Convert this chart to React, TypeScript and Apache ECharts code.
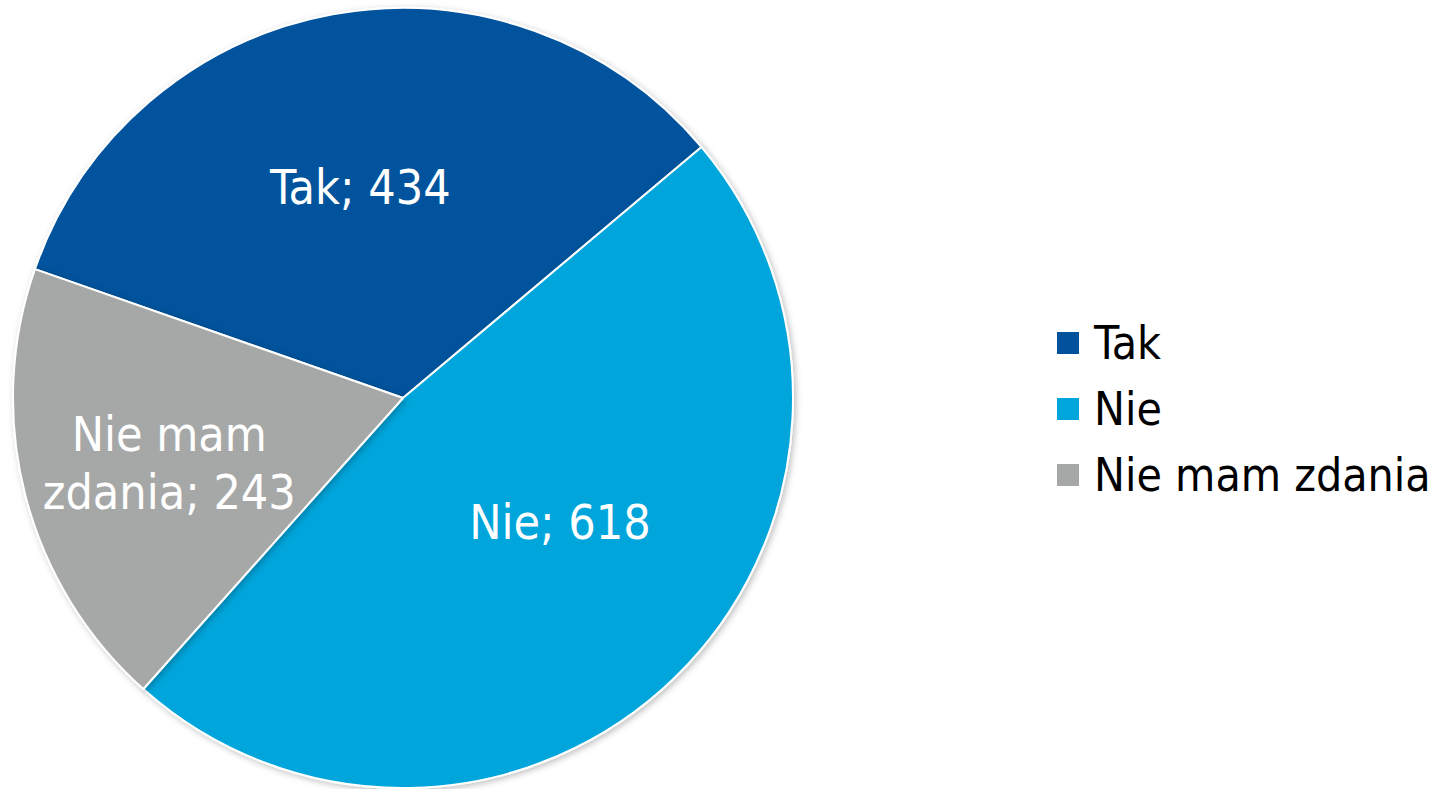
import React, { useEffect, useRef } from "react";
import * as echarts from "echarts";

const categories = ["Tak", "Nie", "Nie mam zdania"];
const values = [434, 618, 243];
const labelTexts = ["Tak; 434", "Nie; 618", "Nie mam\nzdania; 243"];
const colors = ["#00529C", "#00A5DB", "#A6A8A8"];
const labelOffsets = [[-7, -16], [19, -18], [-42, 16]];

const FONT = "'DejaVu Sans Condensed', 'DejaVu Sans', sans-serif";

export default function App() {
  const ref = useRef<HTMLDivElement>(null);
  useEffect(() => {
    document.body.style.margin = "0";
    const chart = echarts.init(ref.current!, undefined, { renderer: "svg" });
    chart.setOption({
      animation: false,
      backgroundColor: "#ffffff",
      legend: {
        orient: "vertical",
        left: 1050,
        top: 315,
        itemWidth: 24,
        itemHeight: 24,
        itemGap: 20,
        icon: "rect",
        data: categories,
        textStyle: {
          fontSize: 46,
          fontFamily: FONT,
          color: "#000",
          lineHeight: 46,
          padding: [0, 0, 0, 9],
        },
      },
      series: [
        {
          type: "pie",
          center: [403, 398],
          radius: 390,
          startAngle: 160.7,
          clockwise: true,
          avoidLabelOverlap: false,
          itemStyle: {
            borderColor: "#ffffff",
            borderWidth: 2,
            shadowBlur: 6,
            shadowColor: "rgba(0,0,0,0.25)",
            shadowOffsetX: 2,
            shadowOffsetY: 2,
          },
          label: {
            show: true,
            position: "inside",
            color: "#ffffff",
            fontSize: 48,
            fontFamily: FONT,
            lineHeight: 58,
          },
          labelLine: { show: false },
          data: categories.map((name, i) => ({
            name,
            value: values[i],
            itemStyle: { color: colors[i] },
            label: { formatter: labelTexts[i], offset: labelOffsets[i] },
          })),
        },
      ],
    });
    return () => chart.dispose();
  }, []);
  return (
    <div
      ref={ref}
      style={{ position: "fixed", left: 0, top: 0, width: 1439, height: 789 }}
    />
  );
}
